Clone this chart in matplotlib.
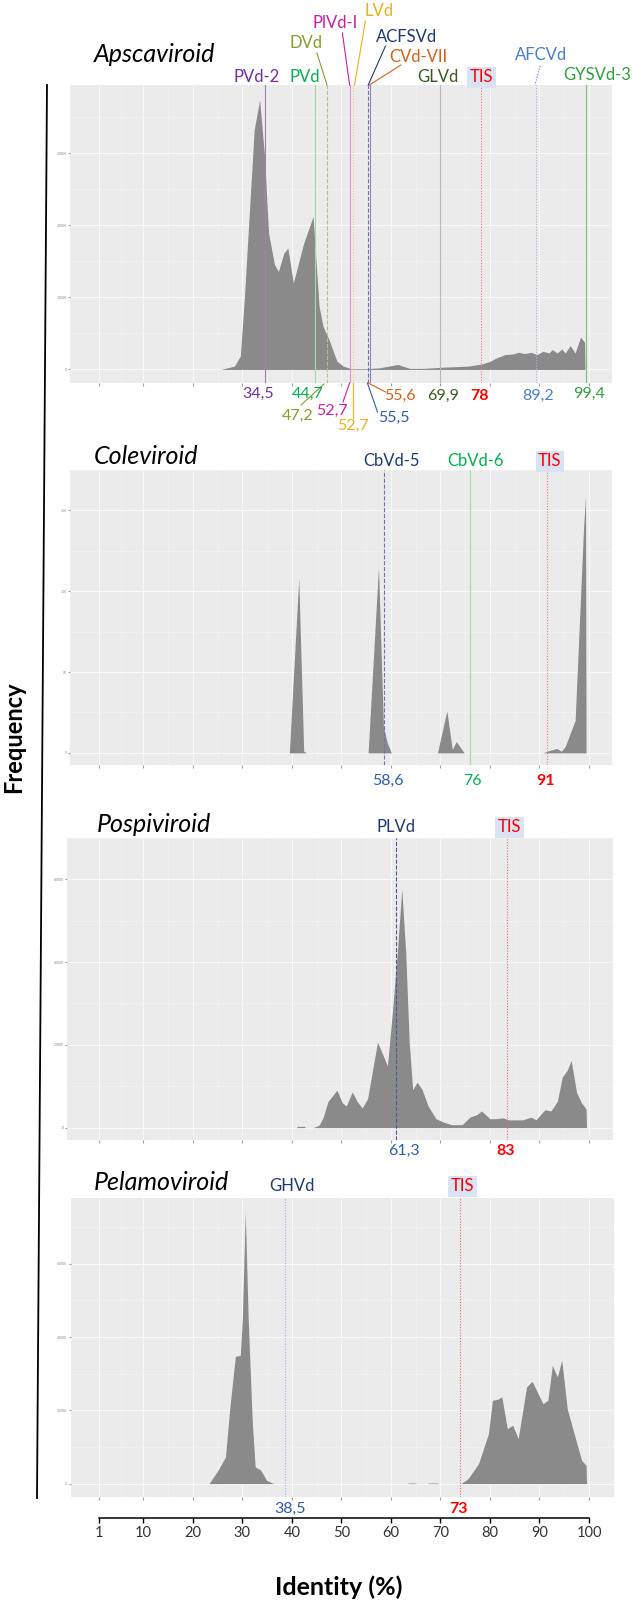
import matplotlib.pyplot as plt

plt.rcParams['font.family'] = ['Lato', 'DejaVu Sans']

# -----------------------------
# 1. DATA
# -----------------------------

# identity (%) profiles of each genus
apsca_x = [25.7, 28.4, 29.6, 30.4, 32.4, 33.5, 34.5, 35.3, 36.5, 37.3, 38.4, 39.2, 40.3, 42.4,
           44.3, 45.5, 46.3, 47.5, 49.1, 50.4, 52.0, 55.0, 57.7, 61.4, 63.8, 66.5, 70.7, 75.6,
           78.5, 80.1, 81.3, 83.0, 84.6, 85.8, 87.0, 88.3, 89.5, 90.7, 91.9, 92.6, 93.6, 94.5,
           95.2, 96.2, 97.2, 98.3, 99.1, 99.2]
apsca_y = [0, 460, 1850, 9700, 33240, 37400, 29540, 18930, 14540, 13620, 16160, 16850, 12000, 17540,
           21230, 8770, 6000, 4150, 1150, 460, 100, 100, 230, 690, 150, 150, 320, 460,
           780, 1150, 1600, 2060, 2150, 2380, 2200, 2380, 2060, 2520, 2290, 2750, 2290, 2840,
           2290, 3300, 2290, 4500, 3760, 0]

cole_x = [39.5, 41.4, 42.4, 43.0, 55.4, 57.5, 58.5, 59.3, 60.1, 69.4, 71.3, 72.4, 73.2, 74.8,
          90.7, 92.0, 93.5, 94.4, 95.2, 97.2, 98.9, 99.3, 99.4]
cole_y = [0, 108, 1, 0, 0, 115, 16, 6, 0, 0, 26, 2, 7, 0,
          0, 1.5, 2.7, 1, 4, 20, 139, 159, 0]

pospi_x = [41.0, 41.1, 42.6, 42.7, 44.3, 45.5, 46.3, 47.3, 49.1, 50.2, 51.0, 52.2, 53.2, 54.2,
           55.3, 57.3, 58.3, 59.3, 60.3, 61.2, 62.2, 63.0, 63.7, 64.4, 65.3, 66.3, 67.5, 69.1,
           70.7, 72.2, 74.4, 76.0, 77.3, 78.3, 80.0, 81.3, 82.6, 83.8, 86.6, 88.3, 89.3, 91.1,
           92.3, 93.6, 94.6, 95.6, 96.4, 97.5, 98.5, 99.4, 99.5]
pospi_y = [0, 300, 300, 0, 0, 580, 2370, 6310, 9040, 5960, 5240, 8610, 6310, 4740,
           7030, 20670, 17800, 14920, 27840, 40750, 57630, 42200, 20670, 9180, 10980, 9180, 5240, 2150,
           1290, 720, 720, 2580, 3090, 4020, 2150, 2150, 2370, 1870, 1870, 2510, 1870, 4310,
           4020, 6310, 12200, 13850, 16220, 8470, 5960, 4520, 0]

pelamo_x = [23.3, 25.1, 26.6, 27.5, 28.6, 29.6, 30.0, 30.6, 31.2, 32.0, 32.6, 33.7, 34.9, 36.3,
            63.4, 63.5, 65.0, 65.1, 67.5, 67.6, 69.5, 69.6,
            74.2, 75.6, 77.7, 79.7, 80.5, 81.5, 82.4, 83.5, 84.6, 85.7, 87.4, 88.5, 90.7, 91.7,
            92.6, 93.6, 94.5, 95.6, 96.8, 98.5, 99.4, 99.5]
pelamo_y = [0, 3630, 7260, 20900, 34730, 35000, 44560, 74000, 44560, 17270, 4530, 3710, 900, 0,
            0, 150, 150, 0, 0, 150, 150, 0,
            0, 1360, 5460, 13640, 22730, 23000, 23650, 15000, 15900, 12280, 26380, 27920, 21830, 22730,
            32280, 29090, 33650, 20460, 14550, 6360, 5000, 0]

# reference viroids: name, identity label, where its line sits
apsca_names = ['PVd-2', 'PVd', 'DVd', 'PlVd-I', 'LVd', 'ACFSVd', 'CVd-VII', 'GLVd', 'TIS', 'AFCVd', 'GYSVd-3']
apsca_vals = ['34,5', '44,7', '47,2', '52,7', '52,7', '55,5', '55,6', '69,9', '78', '89,2', '99,4']
apsca_lines = [34.5, 44.7, 47.2, 51.7, 52.4, 55.4, 55.7, 69.9, 78.2, 89.2, 99.4]

cole_names = ['CbVd-5', 'CbVd-6', 'TIS']
cole_vals = ['58,6', '76', '91']
cole_lines = [58.6, 76.0, 91.5]

pospi_names = ['PLVd', 'TIS']
pospi_vals = ['61,3', '83']
pospi_lines = [61.1, 83.4]

pelamo_names = ['GHVd', 'TIS']
pelamo_vals = ['38,5', '73']
pelamo_lines = [38.7, 74.0]

x_breaks = [1, 10, 20, 30, 40, 50, 60, 70, 80, 90, 100]
apsca_yticks = [0, 10000, 20000, 30000]
cole_yticks = [0, 50, 100, 150]
pospi_yticks = [0, 20000, 40000, 60000]
pelamo_yticks = [0, 20000, 40000, 60000]

# -----------------------------
# 2. STYLES / LAYOUT (pixels of a 633 x 1603 canvas)
# -----------------------------
W, H = 633, 1603
PX0, PXU = 93.7, 4.953          # pixel of identity 0, pixels per identity unit

RED = '#FF0000'
apsca_txt_col = ['#7030A0', '#00B050', '#8A9A2E', '#CC1FA0', '#E8B020', '#1F3A70',
                 '#D2601A', '#3A5A22', RED, '#4A7CCF', '#2E9E3E']
apsca_val_col = ['#7030A0', '#00B050', '#8A9A2E', '#CC1FA0', '#E8B020', '#2F5CA8',
                 '#D2601A', '#3A5A22', RED, '#4A7CCF', '#2E9E3E']
apsca_line_col = ['#A27CC4', '#A0DCA0', '#BDBD80', '#DE90D0', '#F2CC80', '#6A78B0',
                  '#9C80BC', '#B0BAB0', '#F07878', '#A0B6E2', '#84BC84']
DOT = (0, (1, 1.5))
apsca_ls = ['-', '-', '--', '-', DOT, '--', '-', '-', DOT, DOT, '-']

fig = plt.figure(figsize=(W / 100, H / 100), dpi=100)


def panel(box, xs, ys, yticks, ylim):
    x0, y0, x1, y1 = box
    ax = fig.add_axes([x0 / W, 1 - y1 / H, (x1 - x0) / W, (y1 - y0) / H])
    ax.set_facecolor('#EBEBEB')
    ax.set_xlim((x0 - PX0) / PXU, (x1 - PX0) / PXU)
    ax.set_ylim(*ylim)
    ax.set_xticks(x_breaks)
    ax.set_xticks([(a + b) / 2 for a, b in zip(x_breaks[:-1], x_breaks[1:])], minor=True)
    ax.set_yticks(yticks)
    ax.set_yticks([v + (yticks[1] - yticks[0]) / 2 for v in yticks], minor=True)
    ax.grid(which='major', color='#F8F8F8', lw=0.8)
    ax.grid(which='minor', color='#F4F4F4', lw=0.4)
    ax.set_axisbelow(True)
    for s in ax.spines.values():
        s.set_visible(False)
    ax.tick_params(axis='x', which='major', length=2, color='#A0A0A0', labelbottom=False)
    ax.tick_params(axis='both', which='minor', length=0)
    ax.tick_params(axis='y', which='major', length=1.5, color='#A0A0A0',
                   labelsize=2.5, labelcolor='#8C8C8C', pad=1)
    ax.fill_between(xs, ys, 0, color='#8A8A8A', lw=0)
    return ax


ax1 = panel((70, 85, 612, 383), apsca_x, apsca_y, apsca_yticks, (-1880, 39480))
for xv, c, ls in zip(apsca_lines, apsca_line_col, apsca_ls):
    ax1.axvline(xv, color=c, lw=0.8, ls=ls)

ax2 = panel((70, 470, 612, 765), cole_x, cole_y, cole_yticks, (-7.5, 173.4))
for xv, c, ls in zip(cole_lines, ['#6A78B0', '#A0DCA0', '#F07878'], ['--', '-', DOT]):
    ax2.axvline(xv, color=c, lw=0.8, ls=ls)

ax3 = panel((67, 838, 613, 1140), pospi_x, pospi_y, pospi_yticks, (-3000, 61900))
for xv, c, ls in zip(pospi_lines, ['#4A58A0', '#F06868'], ['--', DOT]):
    ax3.axvline(xv, color=c, lw=0.8, ls=ls)

ax4 = panel((70.6, 1198, 613.6, 1497), pelamo_x, pelamo_y, pelamo_yticks, (-3660, 77930))
for xv, c, ls in zip(pelamo_lines, ['#A0B6E2', '#F06868'], [DOT, DOT]):
    ax4.axvline(xv, color=c, lw=0.8, ls=ls)

# shared identity axis at the bottom
bx = fig.add_axes([70 / W, 1 - 1518 / H, 542 / W, 20 / H])
bx.set_xlim((70 - PX0) / PXU, (612 - PX0) / PXU)
bx.patch.set_visible(False)
for s in ['left', 'right', 'top']:
    bx.spines[s].set_visible(False)
bx.spines['bottom'].set_bounds(1, 100)
bx.spines['bottom'].set_linewidth(1.1)
bx.set_xticks(x_breaks)
bx.set_yticks([])
bx.tick_params(axis='x', length=3.6, width=1.0, pad=2, labelsize=10.5, labelcolor='#333333')

# overlay for titles, labels and leader lines
ov = fig.add_axes([0, 0, 1, 1])
ov.set_xlim(0, W)
ov.set_ylim(H, 0)
ov.axis('off')


def txt(x, y, s, color='black', size=12, **kw):
    ov.text(x, y, s, color=color, fontsize=size, ha='center', va='baseline', **kw)


tis_box = dict(boxstyle='square,pad=0.15', fc='#DAE3F3', ec='none')

# titles
for x, y, s in [(94, 62, 'Apscaviroid'), (94, 464, 'Coleviroid'),
                (97, 832, 'Pospiviroid'), (94, 1190, 'Pelamoviroid')]:
    ov.text(x, y, s, fontsize=18, style='italic', ha='left', va='baseline')

# Apscaviroid names and values
name_pos = [(256.4, 82), (304.4, 82), (305.8, 48), (334.7, 28), (379.5, 16), (406.7, 42),
            (418.4, 62), (438, 82), (481.4, 82), (541, 60), (597.5, 80)]
val_pos = [(258.4, 398), (308, 398), (297.4, 420), (332.2, 415), (353.3, 430), (393.6, 422),
           (400.3, 400), (443.5, 400), (479.2, 400), (537.7, 400), (589, 398)]
for (x, y), s, c in zip(name_pos, apsca_names, apsca_txt_col):
    txt(x, y, s, c, 12, bbox=tis_box if s == 'TIS' else None)
for (x, y), s, c in zip(val_pos, apsca_vals, apsca_val_col):
    txt(x, y, s, c, 11.5, fontweight='bold' if c == RED else 'normal')

leaders = [((316.9, 53), (327, 85), '#8A9A2E', '-'),
           ((342.4, 33), (349.6, 85), '#CC1FA0', '-'),
           ((365.4, 21), (354.5, 85), '#E8B020', '-'),
           ((385.5, 46), (368.2, 85), '#1F3A70', '-'),
           ((400.9, 65), (369.4, 85), '#D2601A', '-'),
           ((540.2, 66), (534.9, 85), '#4A7CCF', DOT),
           ((301, 405), (324, 384), '#8A9A2E', '-'),
           ((343, 402), (349.6, 383), '#CC1FA0', '-'),
           ((353.3, 383), (353.3, 418), '#E8B020', '-'),
           ((377.5, 412), (367.4, 383), '#2F5CA8', '-'),
           ((385.5, 392), (368.2, 383), '#D2601A', '-')]
for (xa, ya), (xb, yb), c, ls in leaders:
    ov.plot([xa, xb], [ya, yb], color=c, lw=0.8, ls=ls)

# Coleviroid
for x, s, c in zip([391.6, 476, 550], cole_names, ['#1F3A70', '#00B050', RED]):
    txt(x, 466, s, c, 12, bbox=tis_box if s == 'TIS' else None)
for x, s, c in zip([388.4, 472.3, 545.8], cole_vals, ['#2F5CA8', '#00B050', RED]):
    txt(x, 785, s, c, 11.5, fontweight='bold' if c == RED else 'normal')

# Pospiviroid
for x, s, c in zip([395.6, 509.5], pospi_names, ['#1F3A70', RED]):
    txt(x, 832, s, c, 12, bbox=tis_box if s == 'TIS' else None)
for x, s, c in zip([403.7, 506], pospi_vals, ['#2F5CA8', RED]):
    txt(x, 1155, s, c, 11.5, fontweight='bold' if c == RED else 'normal')

# Pelamoviroid
for x, s, c in zip([291.5, 462.3], pelamo_names, ['#1F3A70', RED]):
    txt(x, 1191, s, c, 12, bbox=tis_box if s == 'TIS' else None)
for x, s, c in zip([290, 458], pelamo_vals, ['#2F5CA8', RED]):
    txt(x, 1513, s, c, 11.5, fontweight='bold' if c == RED else 'normal')

# shared axis titles and left rule
ov.plot([47, 37], [85, 1498], color='black', lw=1.3)
ov.text(14, 737, 'Frequency', rotation=90, ha='center', va='center', fontsize=17, fontweight='bold')
txt(339, 1595, 'Identity (%)', 'black', 18, fontweight='bold')

fig.savefig('out.png', dpi=100)
